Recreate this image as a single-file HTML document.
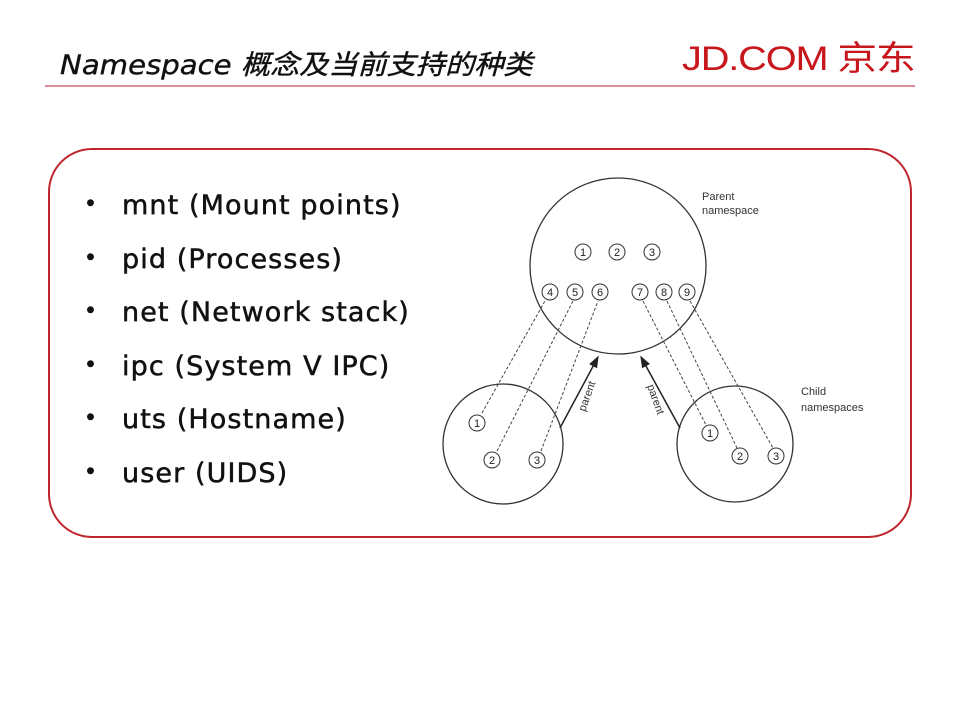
<!DOCTYPE html>
<html><head><meta charset="utf-8"><style>
body{margin:0;width:960px;height:720px;background:#fff;position:relative;overflow:hidden;font-family:"DejaVu Sans","Liberation Sans",sans-serif}
.t{position:absolute;left:60px;top:43px;font-size:27px;font-style:italic;color:#111;font-family:"DejaVu Sans","Noto Sans CJK SC",sans-serif;white-space:nowrap;transform:scaleX(1.08);transform-origin:left;-webkit-text-stroke:0.4px #111}
.logo{position:absolute;left:682px;top:31px;font-size:34px;color:#c8161d;font-family:"Liberation Sans","Noto Sans CJK SC",sans-serif;letter-spacing:-1px;white-space:nowrap;transform:scaleX(1.17);transform-origin:left}
.hr{position:absolute;left:45px;top:85px;width:870px;height:2px;background:#dc8f96}
.box{position:absolute;left:48px;top:148px;width:860px;height:386px;border:2.5px solid #c0262d;border-radius:44px}
ul{position:absolute;left:84px;top:190px;margin:0;padding:0;list-style:none}
li{font-size:27px;height:53.5px;color:#111;white-space:nowrap;letter-spacing:1.1px;-webkit-text-stroke:0.5px #111}
li:before{content:"•";display:inline-block;width:38px;font-size:22px;vertical-align:3px}
</style></head><body>
<div class="t">Namespace 概念及当前支持的种类</div>
<div class="logo">JD.COM 京东</div>
<div class="hr"></div>
<div class="box"></div>
<ul><li>mnt (Mount points)</li><li>pid (Processes)</li><li>net (Network stack)</li><li>ipc (System V IPC)</li><li>uts (Hostname)</li><li>user (UIDS)</li></ul>
<svg width="960" height="720" style="position:absolute;left:0;top:0" font-family="Liberation Sans, sans-serif">
<defs><marker id="a" markerWidth="8" markerHeight="8" refX="7" refY="4" orient="auto"><path d="M0,1 L8,4 L0,7z" fill="#222"/></marker></defs>
<g fill="none" stroke="#333" stroke-width="1.3">
<circle cx="618" cy="266" r="88"/>
<circle cx="503" cy="444" r="60"/>
<circle cx="735" cy="444" r="58"/>
</g>
<g fill="none" stroke="#444" stroke-width="1" stroke-dasharray="3,2">
<line x1="482" y1="413" x2="545" y2="301"/>
<line x1="497" y1="451" x2="573" y2="301"/>
<line x1="541" y1="451" x2="598" y2="301"/>
<line x1="643" y1="301" x2="706" y2="425"/>
<line x1="667" y1="301" x2="737" y2="448"/>
<line x1="690" y1="301" x2="773" y2="448"/>
</g>
<g stroke="#222" stroke-width="1.5" marker-end="url(#a)">
<line x1="560" y1="428" x2="598" y2="357"/>
<line x1="680" y1="428" x2="641" y2="357"/>
</g>
<g fill="#fff" stroke="#333" stroke-width="1">
<circle cx="583" cy="252" r="8"/><circle cx="617" cy="252" r="8"/><circle cx="652" cy="252" r="8"/>
<circle cx="550" cy="292" r="8"/><circle cx="575" cy="292" r="8"/><circle cx="600" cy="292" r="8"/>
<circle cx="640" cy="292" r="8"/><circle cx="664" cy="292" r="8"/><circle cx="687" cy="292" r="8"/>
<circle cx="477" cy="423" r="8"/><circle cx="492" cy="460" r="8"/><circle cx="537" cy="460" r="8"/>
<circle cx="710" cy="433" r="8"/><circle cx="740" cy="456" r="8"/><circle cx="776" cy="456" r="8"/>
</g>
<g font-size="11" fill="#222" text-anchor="middle">
<text x="583" y="256">1</text><text x="617" y="256">2</text><text x="652" y="256">3</text>
<text x="550" y="296">4</text><text x="575" y="296">5</text><text x="600" y="296">6</text>
<text x="640" y="296">7</text><text x="664" y="296">8</text><text x="687" y="296">9</text>
<text x="477" y="427">1</text><text x="492" y="464">2</text><text x="537" y="464">3</text>
<text x="710" y="437">1</text><text x="740" y="460">2</text><text x="776" y="460">3</text>
</g>
<g font-size="11" fill="#333">
<text x="702" y="200">Parent</text><text x="702" y="214">namespace</text>
<text x="801" y="395">Child</text><text x="801" y="411">namespaces</text>
<text transform="translate(585,412) rotate(-70)" font-size="11">parent</text>
<text transform="translate(647,386) rotate(70)" font-size="11">parent</text>
</g>
</svg>
</body></html>
